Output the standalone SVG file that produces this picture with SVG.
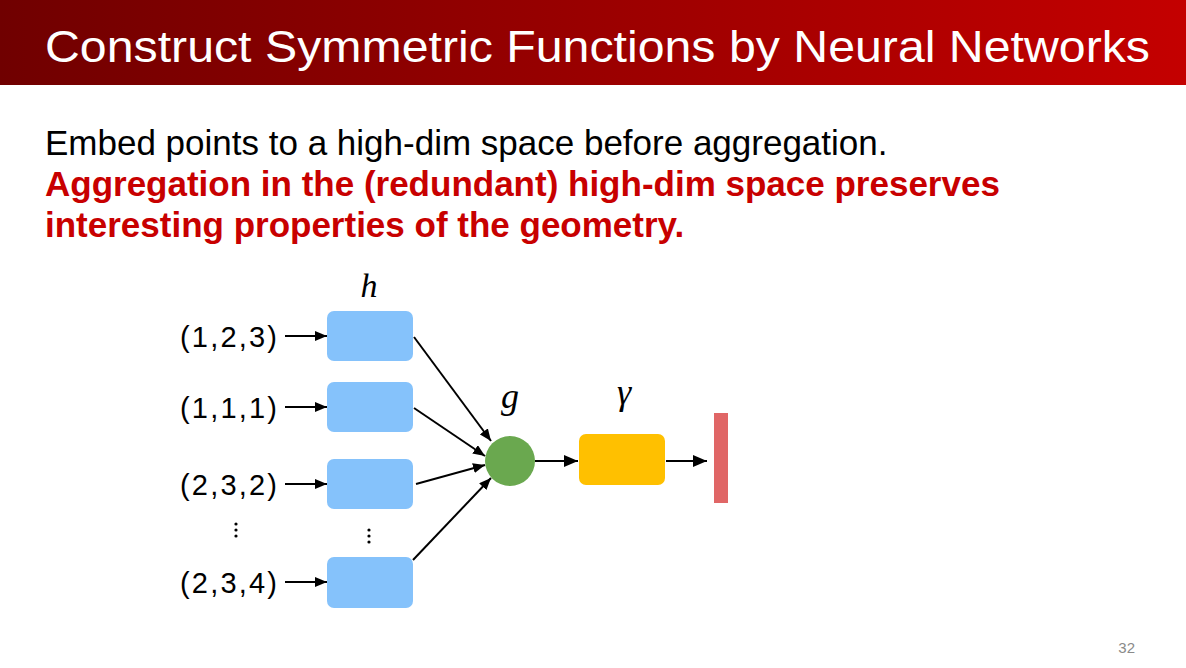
<svg xmlns="http://www.w3.org/2000/svg" width="1186" height="668" viewBox="0 0 1186 668">
<defs>
<linearGradient id="tg" x1="0" y1="0" x2="1" y2="0">
<stop offset="0" stop-color="#700000"/>
<stop offset="1" stop-color="#c40000"/>
</linearGradient>
<marker id="ah" viewBox="0 0 12 10" refX="12" refY="5" markerWidth="12" markerHeight="10" markerUnits="userSpaceOnUse" orient="auto">
<path d="M0,0 L12,5 L0,10 z" fill="#000"/>
</marker>
<marker id="ahb" viewBox="0 0 14 12" refX="14" refY="6" markerWidth="14" markerHeight="12" markerUnits="userSpaceOnUse" orient="auto">
<path d="M0,0 L14,6 L0,12 z" fill="#000"/>
</marker>
</defs>
<style>
.sans{font-family:"Liberation Sans",Arial,sans-serif}
.ser{font-family:"Liberation Serif","Times New Roman",serif;font-style:italic}
.inp{font-size:29px;fill:#000}
.hbox{fill:#85c2fb}
.ln{stroke:#000;stroke-width:2;fill:none}
</style>
<rect x="0" y="0" width="1186" height="85" fill="url(#tg)"/>
<text class="sans" x="45" y="62" font-size="45" fill="#fff" textLength="1105" lengthAdjust="spacingAndGlyphs">Construct Symmetric Functions by Neural Networks</text>
<text class="sans" x="45" y="155" font-size="35" fill="#000">Embed points to a high-dim space before aggregation.</text>
<text class="sans" x="45" y="196" font-size="35" font-weight="bold" fill="#c80000">Aggregation in the (redundant) high-dim space preserves</text>
<text class="sans" x="45" y="237" font-size="35" font-weight="bold" fill="#c80000">interesting properties of the geometry.</text>

<g id="in1"><text class="sans inp" x="180" y="347" textLength="97">(1,2,3)</text></g>
<g id="in2"><text class="sans inp" x="180" y="418" textLength="97">(1,1,1)</text></g>
<g id="in3"><text class="sans inp" x="180" y="495" textLength="97">(2,3,2)</text></g>
<g id="in4"><text class="sans inp" x="180" y="593" textLength="97">(2,3,4)</text></g>
<g id="dots1"><circle cx="236" cy="524" r="1.6"/><circle cx="236" cy="530" r="1.6"/><circle cx="236" cy="536" r="1.6"/></g>
<g id="dots2"><circle cx="369" cy="530" r="1.6"/><circle cx="369" cy="536" r="1.6"/><circle cx="369" cy="542" r="1.6"/></g>

<g id="hlabel"><text class="ser" x="369" y="297" font-size="34" text-anchor="middle">h</text></g>
<g id="h1"><rect class="hbox" x="327" y="311" width="86" height="50" rx="7"/></g>
<g id="h2"><rect class="hbox" x="327" y="382" width="86" height="50" rx="7"/></g>
<g id="h3"><rect class="hbox" x="327" y="459" width="86" height="50" rx="7"/></g>
<g id="h4"><rect class="hbox" x="327" y="557" width="86" height="51" rx="7"/></g>

<g id="g"><circle cx="510" cy="461" r="25" fill="#6aa84f"/><text class="ser" x="510" y="408" font-size="36" text-anchor="middle">g</text></g>
<g id="gamma"><rect x="579" y="434" width="86" height="51" rx="7" fill="#ffc000"/><text class="ser" x="624" y="404" font-size="36" text-anchor="middle">γ</text></g>
<g id="out"><rect x="714" y="413" width="14" height="90" fill="#e06666"/></g>

<g id="connectors">
<line class="ln" x1="285" y1="336" x2="327" y2="336" marker-end="url(#ah)"/>
<line class="ln" x1="285" y1="407" x2="327" y2="407" marker-end="url(#ah)"/>
<line class="ln" x1="285" y1="484" x2="327" y2="484" marker-end="url(#ah)"/>
<line class="ln" x1="285" y1="582" x2="327" y2="582" marker-end="url(#ah)"/>
<line class="ln" x1="414" y1="337" x2="491" y2="441" marker-end="url(#ah)"/>
<line class="ln" x1="414" y1="408" x2="485" y2="456" marker-end="url(#ah)"/>
<line class="ln" x1="416" y1="484" x2="485" y2="465" marker-end="url(#ah)"/>
<line class="ln" x1="413" y1="560" x2="491" y2="478" marker-end="url(#ah)"/>
<line class="ln" x1="535" y1="461" x2="578" y2="461" marker-end="url(#ahb)"/>
<line class="ln" x1="666" y1="461" x2="707" y2="461" marker-end="url(#ahb)"/>
</g>
<text class="sans" x="1135" y="653" font-size="15" fill="#8a8a8a" text-anchor="end">32</text>
</svg>
